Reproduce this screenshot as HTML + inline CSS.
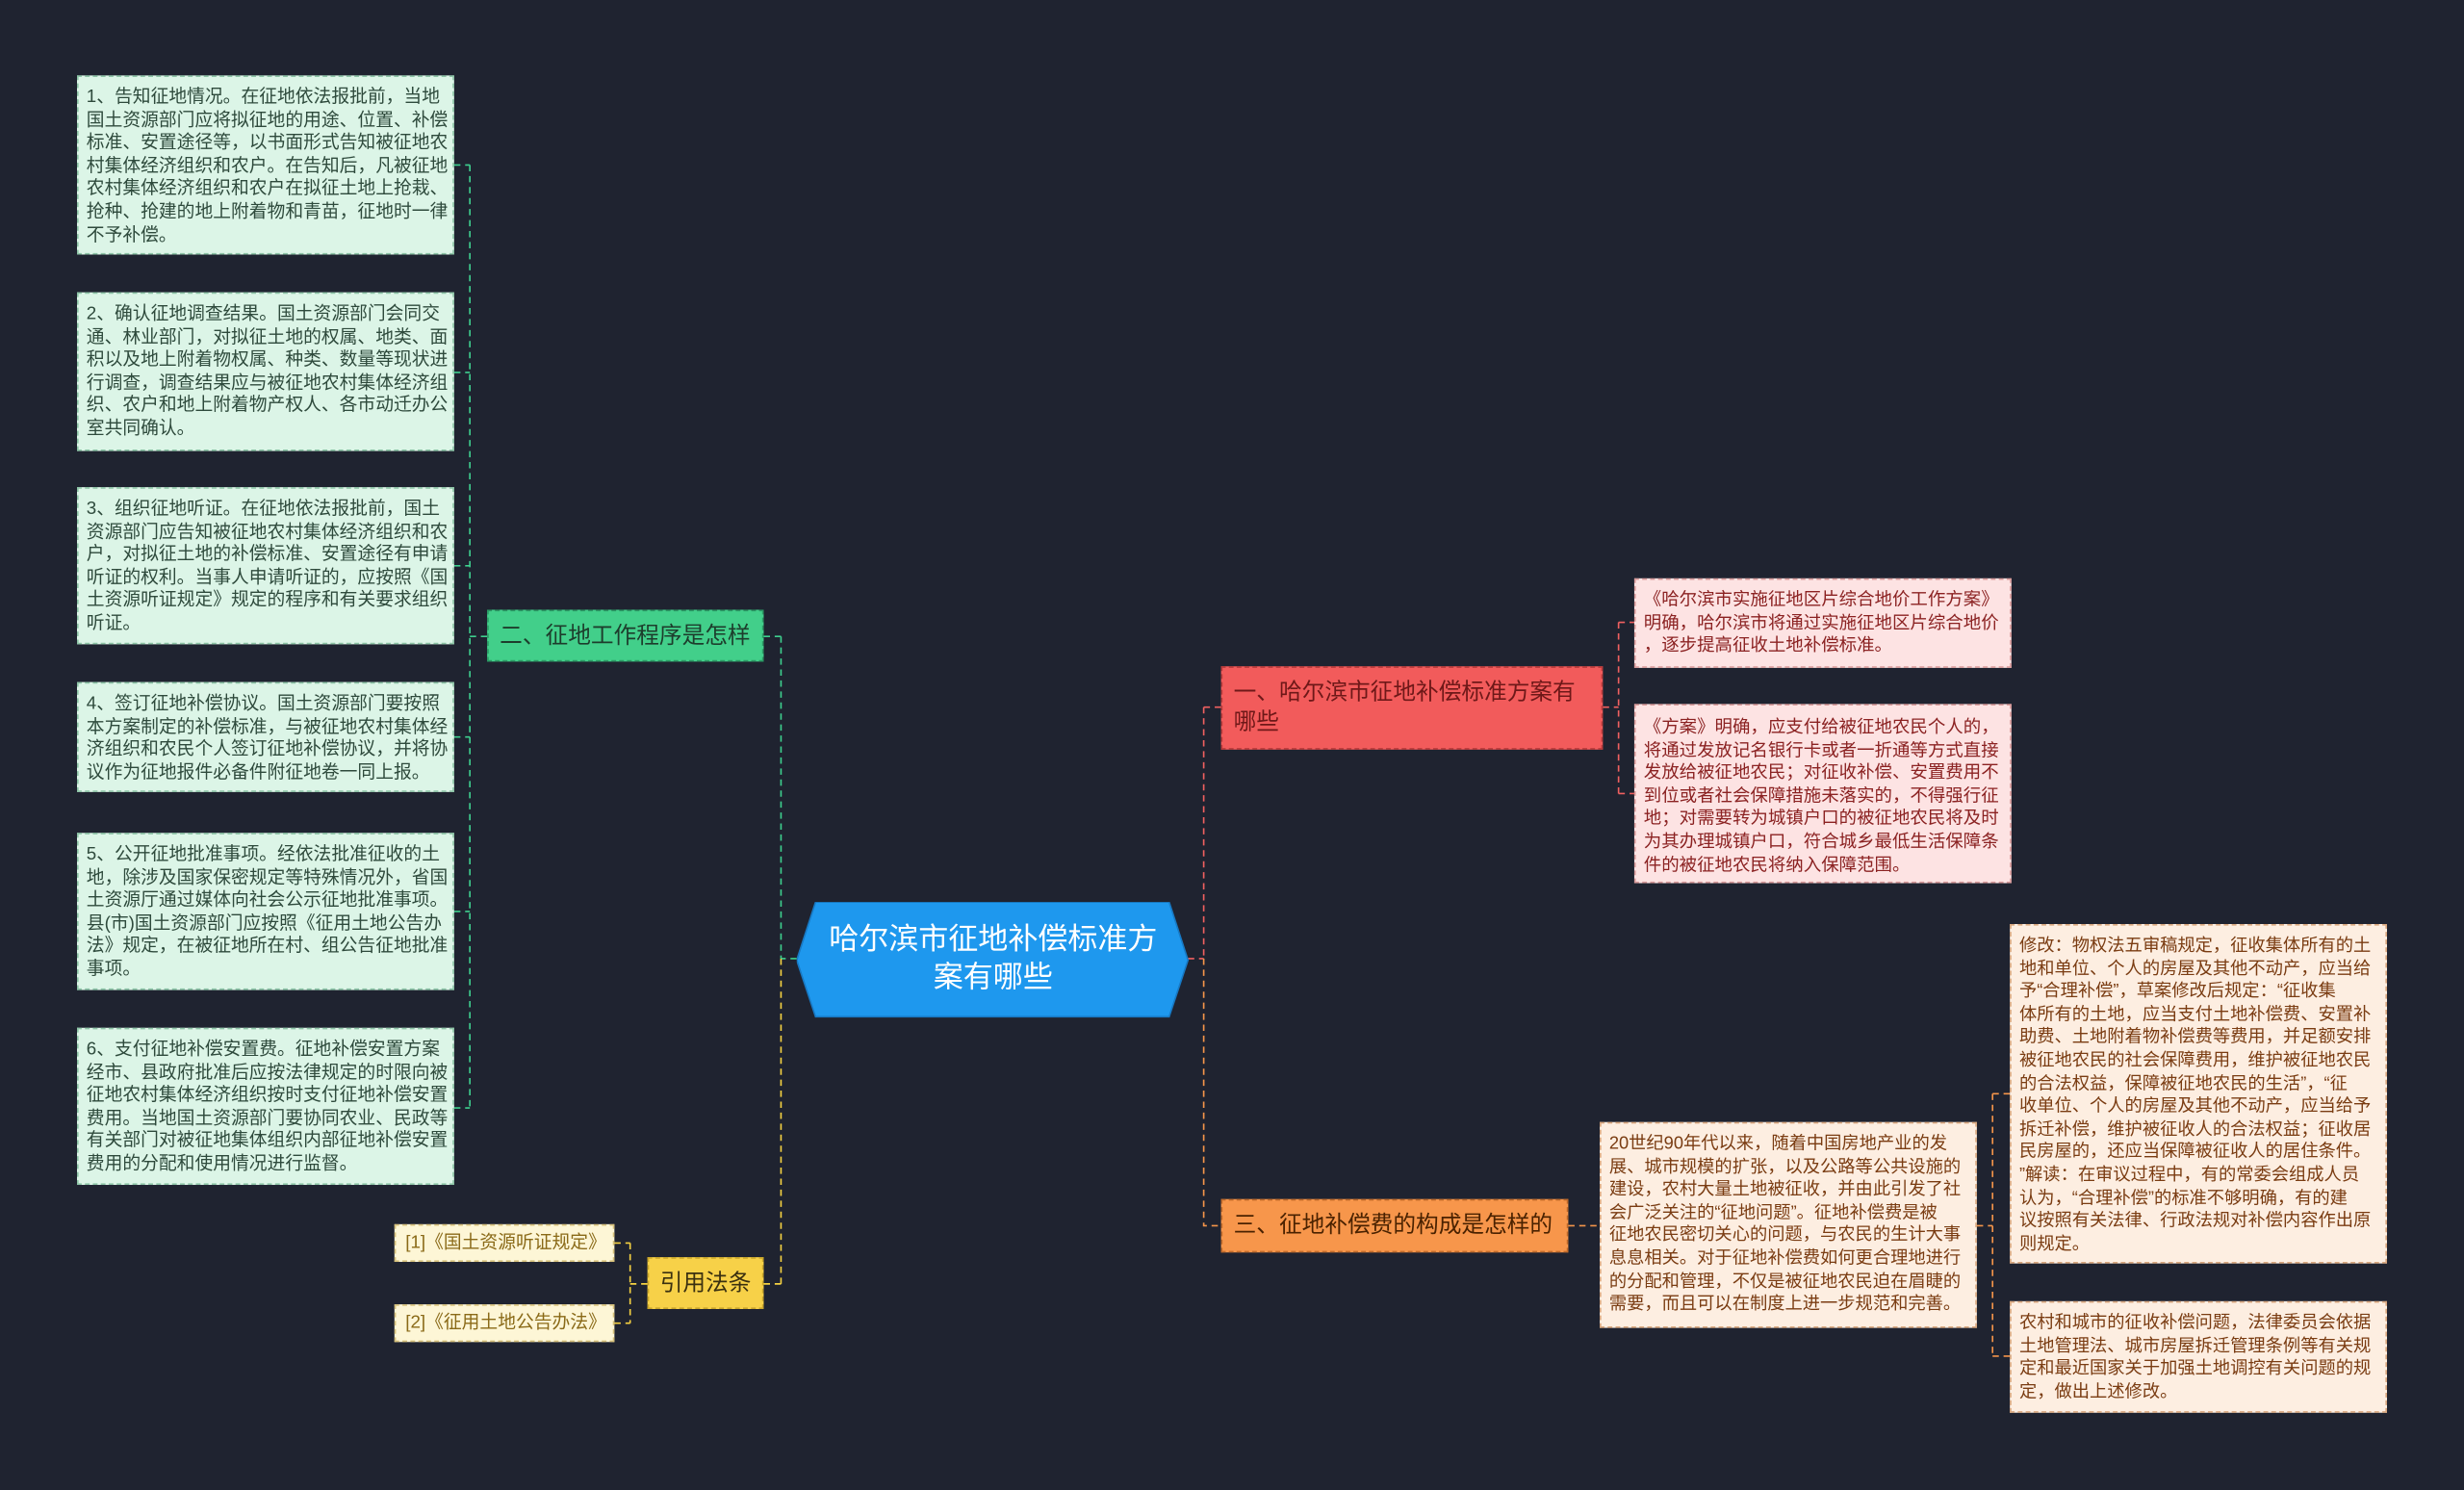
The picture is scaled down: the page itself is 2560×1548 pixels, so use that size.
<!DOCTYPE html>
<html><head><meta charset="utf-8">
<style>
html,body{margin:0;padding:0;background:#1f2330;width:2560px;height:1548px;overflow:hidden}
#s{position:absolute;left:0;top:0;width:1568px;height:948px;transform:scale(1.63265);transform-origin:0 0;font-family:"Liberation Sans","Noto Sans CJK SC",sans-serif}
.b{position:absolute;box-sizing:border-box;white-space:nowrap;border:1px dashed;overflow:hidden}
.l{background:#dcf5e7;border-color:#8cc4a6;color:#2e4a3c;font-size:11.5px;line-height:14.6px;padding:6px 5px}
.r{background:#fde3e3;border-color:#d99a9a;color:#8b2222;font-size:11.3px;line-height:14.6px;padding:6px 5px}
.o{background:#fdeee1;border-color:#d9a77e;color:#7a3c12;font-size:11.2px;line-height:14.6px;padding:6px 5px}
.c{background:#fdf6d6;border-color:#d6c07a;color:#8a6a18;font-size:11.5px;line-height:22px;padding:0 6px}
.n{font-size:14.5px;line-height:18px;padding:0 7px;display:flex;align-items:center}
</style></head><body><div id="s">
<svg width="1568" height="948" style="position:absolute;left:0;top:0" fill="none" stroke-width="1" stroke-dasharray="4,3">
<g stroke="#3ecf8e">
<path d="M310 405H299M299 105V705M289 105H299M289 237H299M289 360H299M289 469H299M289 580H299M289 705H299"/>
<path d="M507 610H497M497 405V610M486 405H497"/>
</g>
<g stroke="#f5d142">
<path d="M497 610V817M486 817H497M412 817H401M401 791V842M391 791H401M391 842H401"/>
</g>
<g stroke="#f06060">
<path d="M756 610H766M766 450V610M766 450H777M1020 450H1030M1030 396V505M1030 396H1040M1030 505H1040"/>
</g>
<g stroke="#f5954a">
<path d="M766 610V780H777M998 780H1018M1258 780H1268M1268 696V863M1268 696H1279M1268 863H1279"/>
</g>
</svg>

<div class="b l" style="left:49px;top:48px;width:240px;height:114px">1、告知征地情况。在征地依法报批前，当地<br>国土资源部门应将拟征地的用途、位置、补偿<br>标准、安置途径等，以书面形式告知被征地农<br>村集体经济组织和农户。在告知后，凡被征地<br>农村集体经济组织和农户在拟征土地上抢栽、<br>抢种、抢建的地上附着物和青苗，征地时一律<br>不予补偿。</div>
<div class="b l" style="left:49px;top:186px;width:240px;height:101px">2、确认征地调查结果。国土资源部门会同交<br>通、林业部门，对拟征土地的权属、地类、面<br>积以及地上附着物权属、种类、数量等现状进<br>行调查，调查结果应与被征地农村集体经济组<br>织、农户和地上附着物产权人、各市动迁办公<br>室共同确认。</div>
<div class="b l" style="left:49px;top:310px;width:240px;height:100px">3、组织征地听证。在征地依法报批前，国土<br>资源部门应告知被征地农村集体经济组织和农<br>户，对拟征土地的补偿标准、安置途径有申请<br>听证的权利。当事人申请听证的，应按照《国<br>土资源听证规定》规定的程序和有关要求组织<br>听证。</div>
<div class="b l" style="left:49px;top:434px;width:240px;height:70px">4、签订征地补偿协议。国土资源部门要按照<br>本方案制定的补偿标准，与被征地农村集体经<br>济组织和农民个人签订征地补偿协议，并将协<br>议作为征地报件必备件附征地卷一同上报。</div>
<div class="b l" style="left:49px;top:530px;width:240px;height:100px">5、公开征地批准事项。经依法批准征收的土<br>地，除涉及国家保密规定等特殊情况外，省国<br>土资源厅通过媒体向社会公示征地批准事项。<br>县(市)国土资源部门应按照《征用土地公告办<br>法》规定，在被征地所在村、组公告征地批准<br>事项。</div>
<div class="b l" style="left:49px;top:654px;width:240px;height:100px">6、支付征地补偿安置费。征地补偿安置方案<br>经市、县政府批准后应按法律规定的时限向被<br>征地农村集体经济组织按时支付征地补偿安置<br>费用。当地国土资源部门要协同农业、民政等<br>有关部门对被征地集体组织内部征地补偿安置<br>费用的分配和使用情况进行监督。</div>

<div class="b n" style="left:310px;top:388px;width:176px;height:33px;background:#42cf8a;border-color:#2a9a64;color:#1d3d2c">二、征地工作程序是怎样</div>
<div class="b n" style="left:412px;top:800px;width:74px;height:33px;background:#f7d148;border-color:#c9a52a;color:#3a3010">引用法条</div>
<div class="b c" style="left:251px;top:779px;width:140px;height:24px">[1]《国土资源听证规定》</div>
<div class="b c" style="left:251px;top:830px;width:140px;height:24px">[2]《征用土地公告办法》</div>

<svg style="position:absolute;left:507px;top:574px" width="250" height="74"><polygon points="12,0 237,0 249,37 237,73 12,73 0,37" fill="#1e98ee" stroke="#1779c4" stroke-width="1"/></svg>
<div style="position:absolute;left:507px;top:574px;width:250px;height:74px;display:flex;align-items:center;justify-content:center;text-align:center;color:#fff;font-size:19px;line-height:24px">哈尔滨市征地补偿标准方<br>案有哪些</div>

<div class="b n" style="left:777px;top:424px;width:243px;height:53px;background:#f25b5b;border-color:#b83a3a;color:#6e1818;white-space:normal;line-height:19px">一、哈尔滨市征地补偿标准方案有<br>哪些</div>
<div class="b r" style="left:1040px;top:368px;width:240px;height:57px">《哈尔滨市实施征地区片综合地价工作方案》<br>明确，哈尔滨市将通过实施征地区片综合地价<br>，逐步提高征收土地补偿标准。</div>
<div class="b r" style="left:1040px;top:448px;width:240px;height:114px;padding-top:7px">《方案》明确，应支付给被征地农民个人的，<br>将通过发放记名银行卡或者一折通等方式直接<br>发放给被征地农民；对征收补偿、安置费用不<br>到位或者社会保障措施未落实的，不得强行征<br>地；对需要转为城镇户口的被征地农民将及时<br>为其办理城镇户口，符合城乡最低生活保障条<br>件的被征地农民将纳入保障范围。</div>

<div class="b n" style="left:777px;top:763px;width:221px;height:34px;background:#f7964b;border-color:#c06a2a;color:#4a2200">三、征地补偿费的构成是怎样的</div>
<div class="b o" style="left:1018px;top:714px;width:240px;height:131px">20世纪90年代以来，随着中国房地产业的发<br>展、城市规模的扩张，以及公路等公共设施的<br>建设，农村大量土地被征收，并由此引发了社<br>会广泛关注的“征地问题”。征地补偿费是被<br>征地农民密切关心的问题，与农民的生计大事<br>息息相关。对于征地补偿费如何更合理地进行<br>的分配和管理，不仅是被征地农民迫在眉睫的<br>需要，而且可以在制度上进一步规范和完善。</div>
<div class="b o" style="left:1279px;top:588px;width:240px;height:216px">修改：物权法五审稿规定，征收集体所有的土<br>地和单位、个人的房屋及其他不动产，应当给<br>予“合理补偿”，草案修改后规定：“征收集<br>体所有的土地，应当支付土地补偿费、安置补<br>助费、土地附着物补偿费等费用，并足额安排<br>被征地农民的社会保障费用，维护被征地农民<br>的合法权益，保障被征地农民的生活”，“征<br>收单位、个人的房屋及其他不动产，应当给予<br>拆迁补偿，维护被征收人的合法权益；征收居<br>民房屋的，还应当保障被征收人的居住条件。<br>”解读：在审议过程中，有的常委会组成人员<br>认为，“合理补偿”的标准不够明确，有的建<br>议按照有关法律、行政法规对补偿内容作出原<br>则规定。</div>
<div class="b o" style="left:1279px;top:828px;width:240px;height:71px">农村和城市的征收补偿问题，法律委员会依据<br>土地管理法、城市房屋拆迁管理条例等有关规<br>定和最近国家关于加强土地调控有关问题的规<br>定，做出上述修改。</div>
</div></body></html>
